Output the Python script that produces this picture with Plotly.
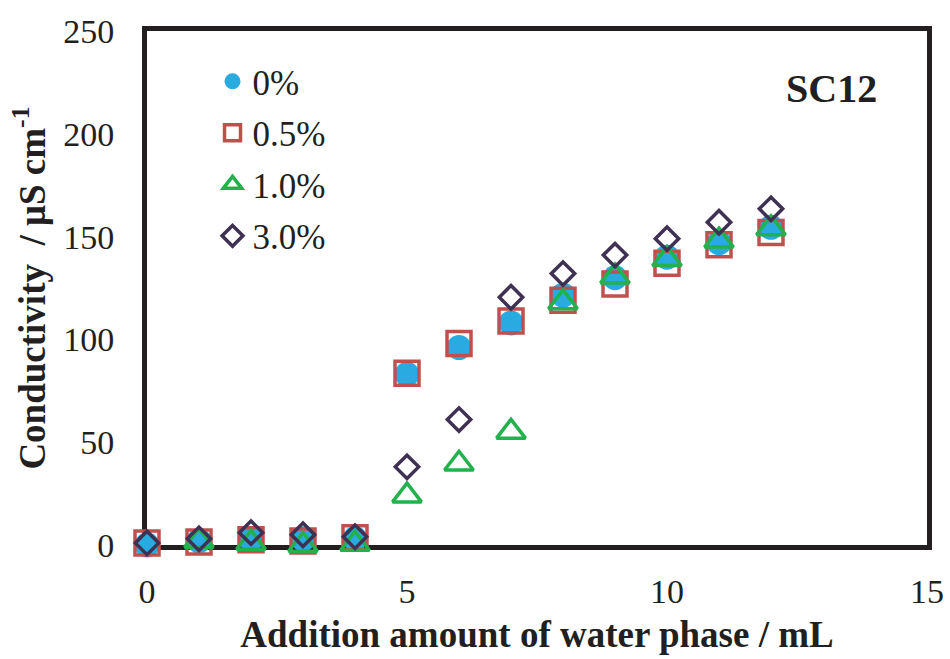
import plotly.graph_objects as go

water_ml = [0, 1, 2, 3, 4, 5, 6, 7, 8, 9, 10, 11, 12]
cond_0 = [0, 2, 3, 3, 3, 83, 96, 108, 121.5, 130, 140, 147, 154.5]
cond_05 = [1, 1.5, 2.5, 2, 3.5, 83.5, 98, 109, 119, 127, 137, 146, 152]
cond_10 = [-1.5, 2, 1, 0, 0.5, 24, 39.5, 55, 118, 130.5, 139, 148, 154]
cond_30 = [1, 3, 6, 5, 4, 38, 61, 120.5, 132, 141, 149, 157, 163.5]
series_names = ["0%", "0.5%", "1.0%", "3.0%"]

serif = "Liberation Serif"
ink = "#231f20"

fig = go.Figure()
fig.add_trace(go.Scatter(
    x=water_ml, y=cond_0, mode="markers", name=series_names[0], legendgroup="a",
    marker=dict(symbol="circle", size=25, color="#29abe2", line=dict(width=0)),
    cliponaxis=False))
fig.add_trace(go.Scatter(
    x=water_ml, y=cond_05, mode="markers", name=series_names[1], legendgroup="b",
    marker=dict(symbol="square-open", size=24, color="#c0504d",
                line=dict(width=3.5, color="#c0504d")),
    cliponaxis=False))
fig.add_trace(go.Scatter(
    x=water_ml, y=cond_10, mode="markers", name=series_names[2], legendgroup="c",
    marker=dict(symbol="triangle-up-open", size=25, color="#22b14c",
                line=dict(width=3.5, color="#22b14c")),
    cliponaxis=False))
fig.add_trace(go.Scatter(
    x=water_ml, y=cond_30, mode="markers", name=series_names[3], legendgroup="d",
    marker=dict(symbol="diamond-open", size=18, color="#3f3151",
                line=dict(width=3.5, color="#3f3151")),
    cliponaxis=False))

fig.update_layout(
    width=950, height=659,
    margin=dict(l=147, r=23, t=31, b=114, autoexpand=False),
    paper_bgcolor="white", plot_bgcolor="white",
    font=dict(family=serif, color=ink),
    showlegend=True,
    legend=dict(x=0.084, y=0.959, xanchor="left", yanchor="top",
                bgcolor="rgba(0,0,0,0)", font=dict(size=35, family=serif, color=ink),
                traceorder="grouped", tracegroupgap=3, itemwidth=30),
    xaxis=dict(range=[0, 15], tickvals=[0, 5, 10, 15], showgrid=False,
               zeroline=False, showline=True, linecolor=ink, linewidth=5,
               mirror=True, ticks="", ticklabelstandoff=12, layer="below traces",
               automargin=False,
               tickfont=dict(size=34, family=serif, color=ink),
               title=dict(text="<b>Addition amount of water phase / mL</b>",
                          font=dict(size=37, family=serif, color=ink), standoff=14)),
    yaxis=dict(range=[0, 250], tickvals=[0, 50, 100, 150, 200, 250], showgrid=False,
               zeroline=False, showline=True, linecolor=ink, linewidth=5,
               mirror=True, ticks="", ticklabelstandoff=21, layer="below traces",
               automargin=False,
               tickfont=dict(size=34, family=serif, color=ink),
               title=dict(text="<b>Conductivity  / μS cm<sup>-1</sup></b>",
                          font=dict(size=37, family=serif, color=ink), standoff=8)),
    annotations=[dict(text="<b>SC12</b>", x=0.877, y=0.888, xref="paper", yref="paper",
                      xanchor="center", yanchor="middle", showarrow=False,
                      font=dict(size=40, family=serif, color=ink))],
)

fig.write_html("out.html", config={"displayModeBar": False},
               post_script="document.body.style.margin='0';")
